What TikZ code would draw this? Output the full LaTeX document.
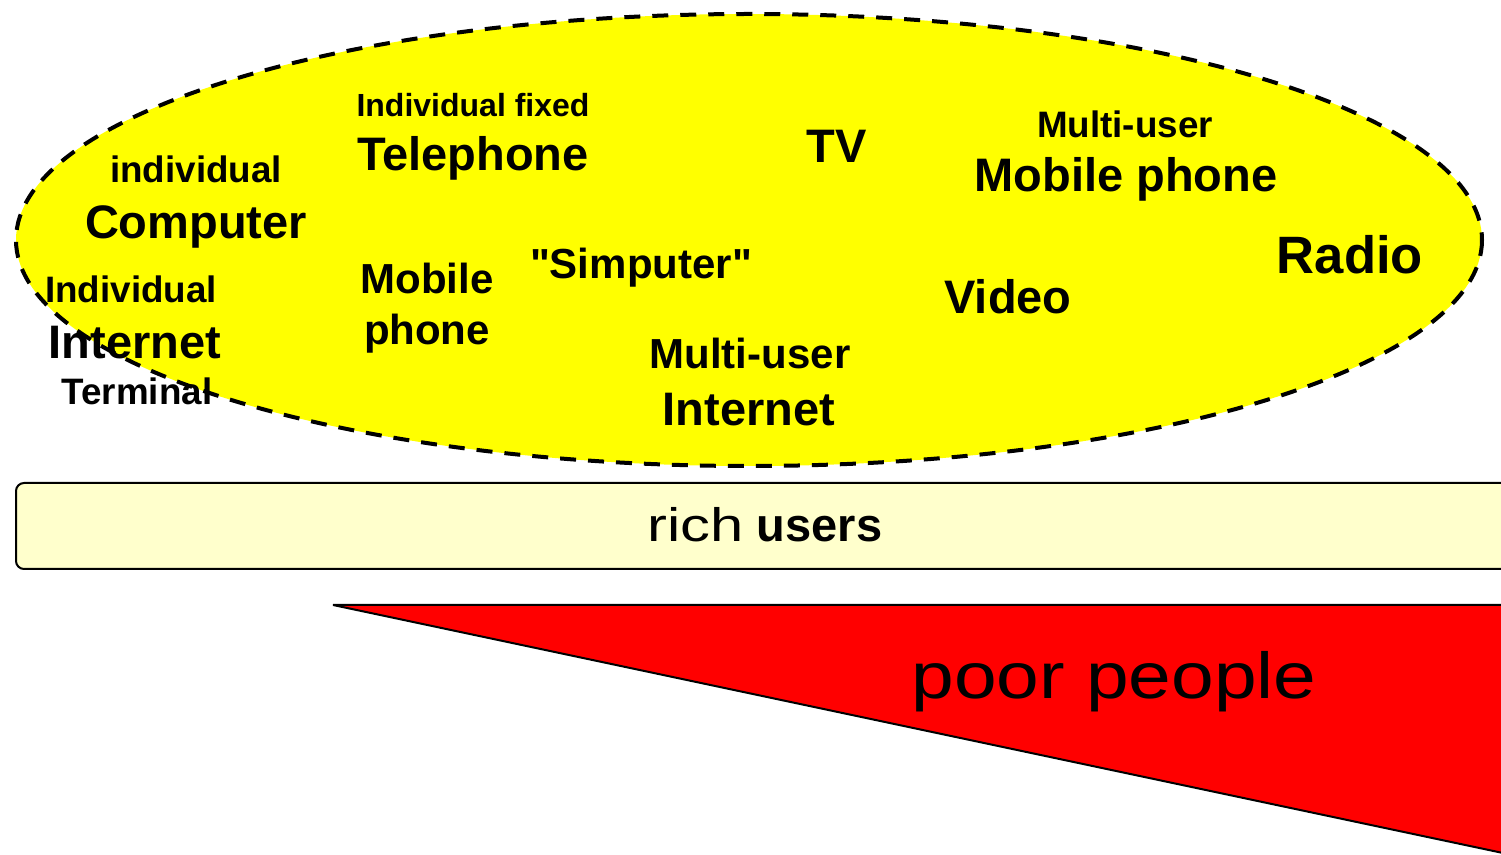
\documentclass[tikz,border=0pt]{standalone}
\usepackage{fontspec}
\setmainfont{Liberation Sans}[Ligatures=TeXOff]
\usepackage{graphicx}
\definecolor{ellfill}{HTML}{FFFF00}
\definecolor{barfill}{HTML}{FFFFCC}
\definecolor{tri}{HTML}{FF0000}
\tikzset{
  lbl/.style={anchor=base, inner sep=0pt, text=black},
  sz32/.style={lbl, font=\fontsize{16}{19}\bfseries\selectfont},
  sz37/.style={lbl, font=\fontsize{18.4}{22}\bfseries\selectfont},
  sz42/.style={lbl, font=\fontsize{21}{25}\bfseries\selectfont},
  sz47/.style={lbl, font=\fontsize{23.5}{28}\bfseries\selectfont},
  sz53/.style={lbl, font=\fontsize{26.3}{31}\bfseries\selectfont},
  ellstyle/.style={fill=ellfill, draw=black, line width=2pt, dash pattern=on 8pt off 6pt},
  barstyle/.style={fill=barfill, draw=black, line width=1pt, rounded corners=4pt},
  tristyle/.style={fill=tri, draw=black, line width=1pt, line join=bevel}
}
\begin{document}
\begin{tikzpicture}[x=0.5pt, y=-0.5pt]
\useasboundingbox (0,0) rectangle (1501,855);
\clip (0,0) rectangle (1501,855);
% ellipse
\draw[ellstyle] (749,240) ellipse [x radius=733, y radius=226];
% rich users bar
\draw[barstyle] (16,483) rectangle (1530,569);
\node[lbl, font=\fontsize{23.5}{28}\selectfont] (rich) at (765,542) {\scalebox{1.27}[1]{rich} \textbf{users}};
% triangle
\coordinate (ta) at (333,605);
\coordinate (tb) at (1510,605);
\coordinate (tc) at (1510,854.5);
\draw[tristyle] (ta) -- (tb) -- (tc) -- cycle;
\node[lbl, font=\fontsize{32.5}{38}\selectfont] (poor) at (1114,698) {\scalebox{1.18}[1]{poor people}};
% labels in ellipse
\node[sz37] (indiv) at (196,183) {individual};
\node[sz47] (comp) at (196,239) {Computer};
\node[sz32] (indfix) at (473,117) {Individual fixed};
\node[sz47] (tel) at (473,171) {Telephone};
\node[sz47] (tv) at (837,163) {TV};
\node[sz37] (mu1) at (1125,138) {Multi-user};
\node[sz47] (mob1) at (1126,192) {Mobile phone};
\node[sz53] (radio) at (1350,274) {Radio};
\node[sz42] (simp) at (641,279) {"Simputer"};
\node[sz42] (mob2) at (427,294) {Mobile};
\node[sz42] (ph2) at (427,345) {phone};
\node[sz47] (video) at (1008,314) {Video};
\node[sz37] (ind2) at (131,303) {Individual};
\node[sz47] (inet1) at (135,359) {Internet};
\node[sz37] (term) at (137,405) {Terminal};
\node[sz42] (mu2) at (750,369) {Multi-user};
\node[sz47] (inet2) at (749,426) {Internet};
\end{tikzpicture}
\end{document}
